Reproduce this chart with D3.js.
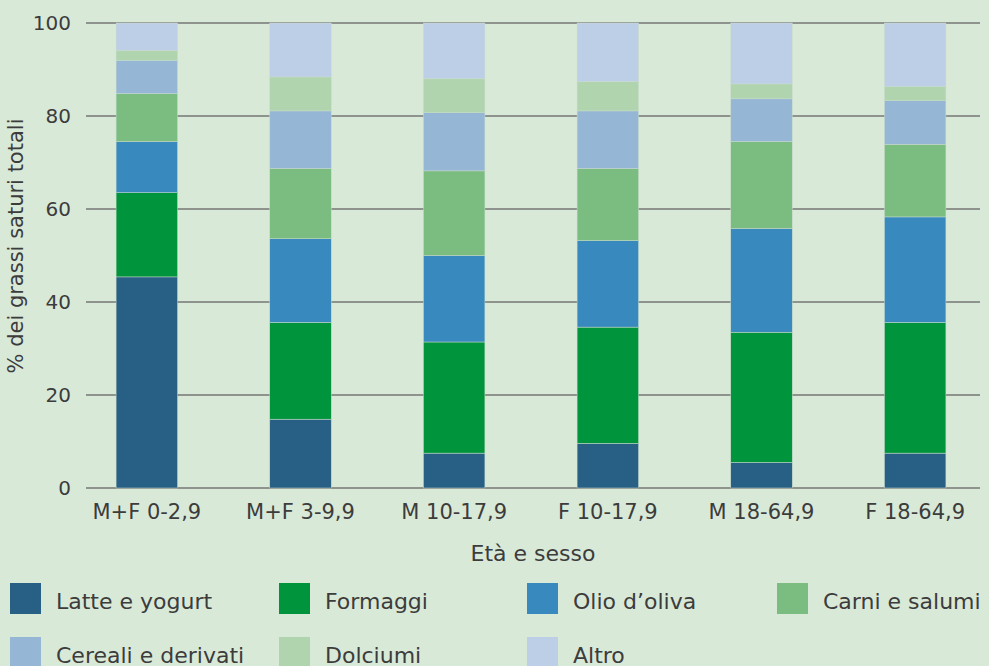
<!DOCTYPE html>
<html>
<head>
<meta charset="utf-8">
<script src="https://cdn.jsdelivr.net/npm/d3@7"></script>
<style>
  html, body { margin: 0; padding: 0; background: #d9e9d8; }
  svg { display: block; font-family: "DejaVu Sans", sans-serif; }
  .tick-label { fill: #3c3c3c; font-size: 20px; }
  .x-label { font-size: 21px; }
  .axis-title { fill: #3c3c3c; font-size: 21px; }
  .x-title { font-size: 22px; }
  .legend-label { fill: #3c3c3c; font-size: 22px; }
  .grid-line { stroke: #767676; stroke-width: 1.4; }
</style>
</head>
<body>
<svg id="chart" width="989" height="666"></svg>
<script>
// Data
const categories = ["M+F 0-2,9", "M+F 3-9,9", "M 10-17,9", "F 10-17,9", "M 18-64,9", "F 18-64,9"];
const seriesNames = ["Latte e yogurt", "Formaggi", "Olio d\u2019oliva", "Carni e salumi", "Cereali e derivati", "Dolciumi", "Altro"];
const latte    = [45.4, 14.8,  7.5,  9.6,  5.5,  7.5];
const formaggi = [18.1, 20.8, 23.9, 25.0, 28.0, 28.1];
const olio     = [11.0, 18.0, 18.6, 18.6, 22.3, 22.7];
const carni    = [10.3, 15.1, 18.2, 15.5, 18.7, 15.6];
const cereali  = [ 7.2, 12.4, 12.5, 12.4,  9.2,  9.4];
const dolciumi = [ 2.1,  7.3,  7.3,  6.3,  3.2,  3.0];
const altro    = [ 5.9, 11.6, 12.0, 12.6, 13.1, 13.7];
const yTicks = [0, 20, 40, 60, 80, 100];
const colors = ["#285f85", "#00943c", "#3889be", "#7bbc81", "#96b6d6", "#afd4ae", "#bccfe7"];

const seriesValues = [latte, formaggi, olio, carni, cereali, dolciumi, altro];
const table = categories.map((c, i) => {
    const row = { cat: c };
    seriesNames.forEach((s, j) => { row[s] = seriesValues[j][i]; });
    return row;
});

const svg = d3.select("#chart");

const x = d3.scaleBand().domain(categories).range([70, 992]).paddingInner(0.6).paddingOuter(0.3);
const y = d3.scaleLinear().domain([0, 100]).range([488, 23]);
const color = d3.scaleOrdinal().domain(seriesNames).range(colors);

// Grid lines
svg.append("g").selectAll("line")
    .data(yTicks)
    .join("line")
    .attr("class", "grid-line")
    .attr("x1", 86).attr("x2", 980)
    .attr("y1", d => y(d)).attr("y2", d => y(d));

// Y tick labels
svg.append("g").selectAll("text")
    .data(yTicks)
    .join("text")
    .attr("class", "tick-label")
    .attr("x", 71)
    .attr("y", d => y(d))
    .attr("dy", "0.36em")
    .attr("text-anchor", "end")
    .text(d => d);

// Stacked bars
const stack = d3.stack().keys(seriesNames)(table);
svg.append("g").selectAll("g")
    .data(stack)
    .join("g")
    .attr("fill", d => color(d.key))
    .selectAll("rect")
    .data(d => d)
    .join("rect")
    .attr("x", d => x(d.data.cat))
    .attr("width", x.bandwidth())
    .attr("y", d => y(d[1]))
    .attr("height", d => y(d[0]) - y(d[1]))
    .attr("stroke", "#c9dccb")
    .attr("stroke-width", 0.5);

// X tick labels
svg.append("g").selectAll("text")
    .data(categories)
    .join("text")
    .attr("class", "tick-label x-label")
    .attr("x", d => x(d) + x.bandwidth() / 2)
    .attr("y", 519)
    .attr("text-anchor", "middle")
    .text(d => d);

// Axis titles
svg.append("text")
    .attr("class", "axis-title x-title")
    .attr("x", 533)
    .attr("y", 561)
    .attr("text-anchor", "middle")
    .text("Et\u00e0 e sesso");

svg.append("text")
    .attr("class", "axis-title")
    .attr("transform", "translate(23,246) rotate(-90)")
    .attr("text-anchor", "middle")
    .text("% dei grassi saturi totali");

// Legend
const legendCols = [10, 279, 527, 777];
const legendRows = [583, 637];
const legend = svg.append("g").selectAll("g")
    .data(seriesNames)
    .join("g")
    .attr("transform", (d, i) => `translate(${legendCols[i % 4]},${legendRows[Math.floor(i / 4)]})`);

legend.append("rect")
    .attr("width", 31)
    .attr("height", 31)
    .attr("fill", d => color(d));

legend.append("text")
    .attr("class", "legend-label")
    .attr("x", 46)
    .attr("y", 26)
    .text(d => d);
</script>
</body>
</html>
